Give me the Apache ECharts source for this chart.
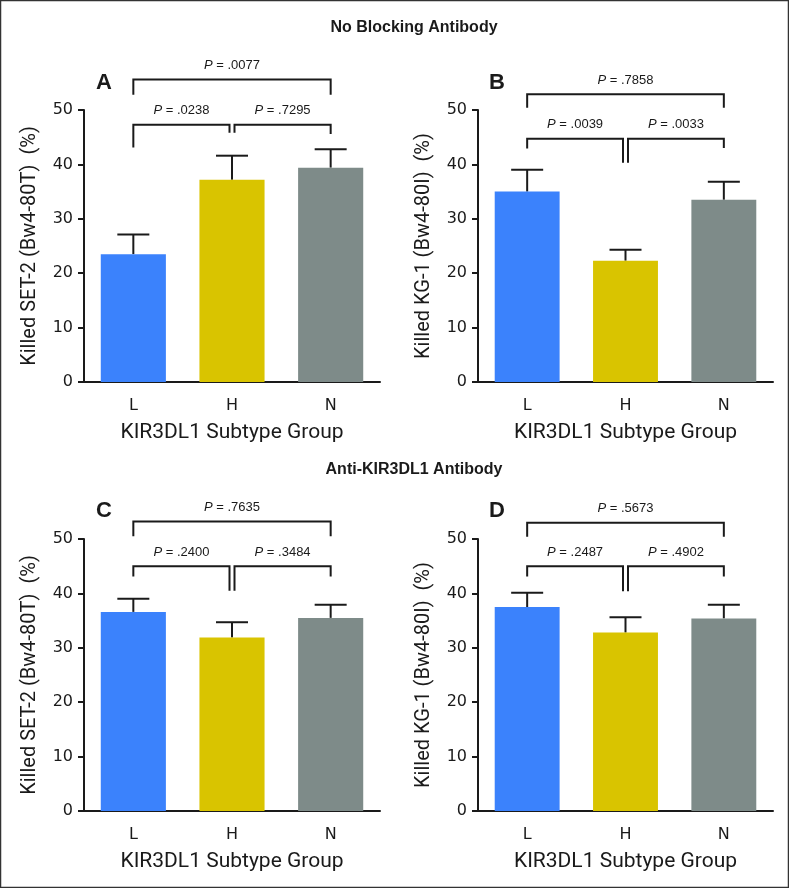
<!DOCTYPE html>
<html>
<head>
<meta charset="utf-8">
<script src="https://cdn.jsdelivr.net/npm/echarts@6/dist/echarts.min.js"></script>
<style>
  html, body { margin: 0; padding: 0; background: #fff; }
  #chart { width: 789px; height: 888px; }
</style>
</head>
<body>
<div id="chart"></div>
<script>
// groups on the x axis
var groups = ['L', 'H', 'N'];
var barColors = ['#3b82fc', '#d9c400', '#7e8b89'];
var yTicks = [0, 10, 20, 30, 40, 50];

// mean and upper error (SEM) per panel
var meanA = [23.5, 37.2, 39.4];
var upperA = [27.1, 41.6, 42.8];
var meanB = [35.0, 22.3, 33.5];
var upperB = [39.0, 24.3, 36.8];
var meanC = [36.6, 31.9, 35.5];
var upperC = [39.0, 34.7, 37.9];
var meanD = [37.5, 32.8, 35.4];
var upperD = [40.1, 35.6, 37.9];

// brackets: [from, to, bar height, left leg end, right leg end, label]
var bracketsA = [
  [0, 2, 55.6, 52.8, 52.8, '.0077'],
  [0, 1, 47.3, 43.1, 45.8, '.0238'],
  [1, 2, 47.3, 45.8, 45.6, '.7295']
];
var bracketsB = [
  [0, 2, 52.9, 50.4, 50.4, '.7858'],
  [0, 1, 44.7, 42.9, 40.3, '.0039'],
  [1, 2, 44.7, 40.3, 43.0, '.0033']
];
var bracketsC = [
  [0, 2, 53.2, 50.5, 50.5, '.7635'],
  [0, 1, 45.0, 43.1, 40.5, '.2400'],
  [1, 2, 45.0, 40.5, 43.1, '.3484']
];
var bracketsD = [
  [0, 2, 53.0, 50.4, 50.4, '.5673'],
  [0, 1, 45.0, 43.1, 40.4, '.2487'],
  [1, 2, 45.0, 40.4, 43.1, '.4902']
];

var yNames = ['Killed SET-2 (Bw4-80T)  (%)', 'Killed KG-1 (Bw4-80I)  (%)',
              'Killed SET-2 (Bw4-80T)  (%)', 'Killed KG-1 (Bw4-80I)  (%)'];
var xName = 'KIR3DL1 Subtype Group';
var panelLetters = ['A', 'B', 'C', 'D'];

var panels = [
  { mean: meanA, upper: upperA, brackets: bracketsA, grid: { left: 84, top: 110, width: 296, height: 272 } },
  { mean: meanB, upper: upperB, brackets: bracketsB, grid: { left: 478, top: 110, width: 295, height: 272 } },
  { mean: meanC, upper: upperC, brackets: bracketsC, grid: { left: 84, top: 539, width: 296, height: 272 } },
  { mean: meanD, upper: upperD, brackets: bracketsD, grid: { left: 478, top: 539, width: 295, height: 272 } }
];

var INK = '#1a1a1a';
var narrow = 'Roboto, "Liberation Sans", sans-serif';
var plain = '"DejaVu Sans", sans-serif';

var grids = [], xAxes = [], yAxes = [], series = [];

panels.forEach(function (p, k) {
  grids.push(p.grid);
  xAxes.push({
    gridIndex: k,
    type: 'category',
    data: groups,
    name: xName,
    nameLocation: 'middle',
    nameGap: 40,
    nameTextStyle: { fontFamily: narrow, fontSize: 21, color: INK },
    axisLine: { lineStyle: { color: INK, width: 2 } },
    axisTick: { alignWithLabel: true, length: 6, lineStyle: { color: INK, width: 2 } },
    axisLabel: { margin: 16, fontFamily: plain, fontSize: 16, color: INK }
  });
  yAxes.push({
    gridIndex: k,
    type: 'value',
    min: 0,
    max: 50,
    interval: 10,
    name: yNames[k],
    nameLocation: 'middle',
    nameGap: 44,
    nameTextStyle: { fontFamily: narrow, fontSize: 20, color: INK },
    axisLine: { show: true, lineStyle: { color: INK, width: 2 } },
    axisTick: { show: true, length: 6, lineStyle: { color: INK, width: 2 } },
    axisLabel: { margin: 11, fontFamily: plain, fontSize: 16, color: INK },
    splitLine: { show: false }
  });

  series.push({
    type: 'bar',
    xAxisIndex: k,
    yAxisIndex: k,
    barWidth: '66%',
    data: p.mean.map(function (v, i) {
      return { value: v, itemStyle: { color: barColors[i] } };
    }),
    silent: true
  });

  // error bars (upper only, like the original)
  series.push({
    type: 'custom',
    xAxisIndex: k,
    yAxisIndex: k,
    clip: false,
    silent: true,
    data: p.mean.map(function (v, i) { return [i, v, p.upper[i]]; }),
    renderItem: function (params, api) {
      var base = api.coord([api.value(0), api.value(1)]);
      var top = api.coord([api.value(0), api.value(2)]);
      var cap = 16;
      return {
        type: 'group',
        children: [
          { type: 'line', shape: { x1: base[0], y1: base[1], x2: top[0], y2: top[1] },
            style: { stroke: INK, lineWidth: 2 } },
          { type: 'line', shape: { x1: top[0] - cap, y1: top[1], x2: top[0] + cap, y2: top[1] },
            style: { stroke: INK, lineWidth: 2 } }
        ]
      };
    }
  });

  // significance brackets
  series.push({
    type: 'custom',
    xAxisIndex: k,
    yAxisIndex: k,
    clip: false,
    silent: true,
    data: p.brackets,
    renderItem: function (params, api) {
      var b = p.brackets[params.dataIndex];
      var xa = api.coord([b[0], 0])[0];
      var xb = api.coord([b[1], 0])[0];
      // the two short brackets meet at the middle group with a small gap
      if (b[1] === 1) xb -= 2.5;
      if (b[0] === 1) xa += 2.5;
      var yBar = api.coord([0, b[2]])[1];
      var yl = api.coord([0, b[3]])[1];
      var yr = api.coord([0, b[4]])[1];
      return {
        type: 'group',
        children: [
          { type: 'polyline',
            shape: { points: [[xa, yl], [xa, yBar], [xb, yBar], [xb, yr]] },
            style: { stroke: INK, lineWidth: 2, fill: null } },
          { type: 'text',
            x: (xa + xb) / 2, y: yBar - 14,
            style: {
              text: '{i|P} = ' + b[5],
              align: 'center', verticalAlign: 'middle',
              fontFamily: '"Liberation Sans", Arial, sans-serif', fontSize: 13, fill: INK,
              rich: { i: { fontStyle: 'italic', fontFamily: '"Liberation Sans", Arial, sans-serif', fontSize: 13, fill: INK } }
            } }
        ]
      };
    }
  });
});

var letterPos = [[104, 83], [497, 83], [104, 511], [497, 511]];
var graphics = [
  { type: 'rect', shape: { x: 0.5, y: 0.5, width: 788, height: 887 },
    style: { fill: null, stroke: '#333', lineWidth: 1.5 } },
  { type: 'text', x: 414, y: 28,
    style: { text: 'No Blocking Antibody', align: 'center', verticalAlign: 'middle',
      font: 'bold 16px "Liberation Sans", Arial, sans-serif', fill: INK } },
  { type: 'text', x: 414, y: 470,
    style: { text: 'Anti-KIR3DL1 Antibody', align: 'center', verticalAlign: 'middle',
      font: 'bold 16px "Liberation Sans", Arial, sans-serif', fill: INK } }
];
panelLetters.forEach(function (t, k) {
  graphics.push({ type: 'text', x: letterPos[k][0], y: letterPos[k][1],
    style: { text: t, align: 'center', verticalAlign: 'middle',
      font: 'bold 22px "Liberation Sans", Arial, sans-serif', fill: INK } });
});

var chart = echarts.init(document.getElementById('chart'));
chart.setOption({
  animation: false,
  backgroundColor: '#fff',
  grid: grids,
  xAxis: xAxes,
  yAxis: yAxes,
  series: series,
  graphic: graphics
});
</script>
</body>
</html>
